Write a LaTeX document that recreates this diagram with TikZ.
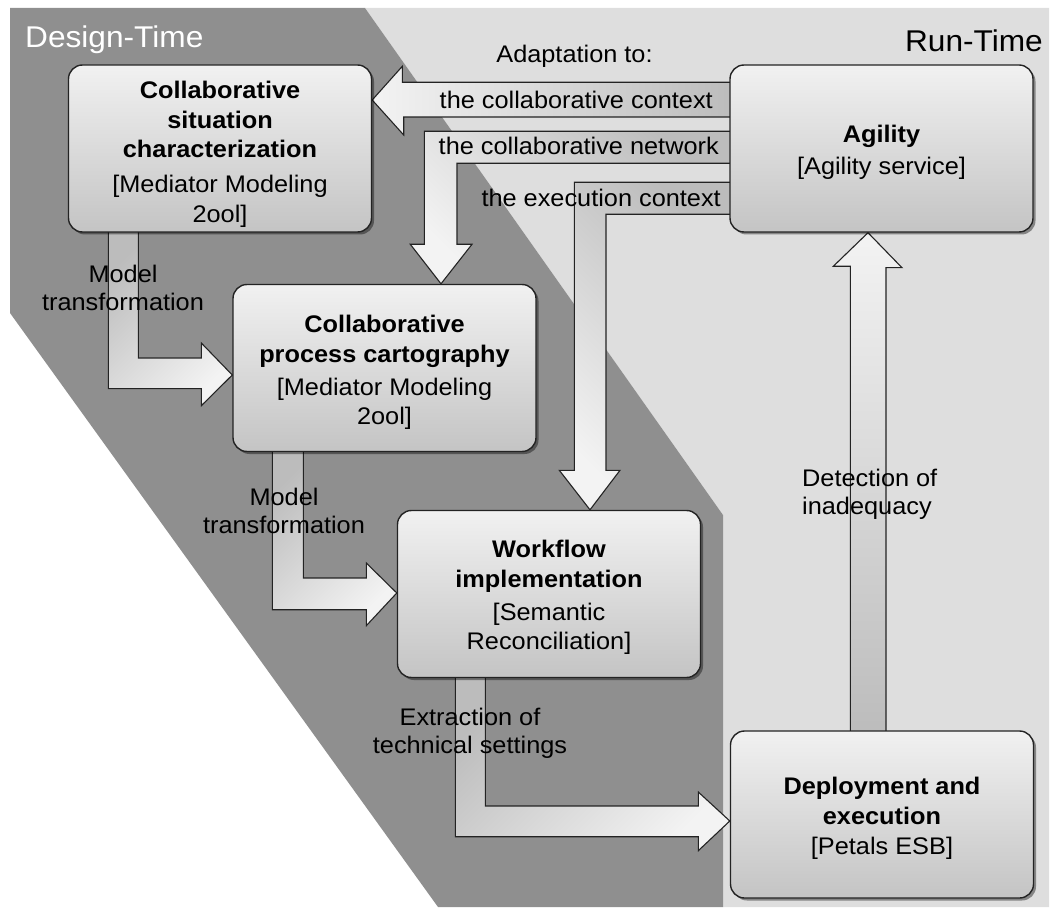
\documentclass[tikz,border=0pt]{standalone}
\usepackage{fontspec}
\setmainfont[FakeStretch=1.055]{Liberation Sans}
\usetikzlibrary{calc,shadows}
\pgfdeclarelayer{bglayer}
\pgfdeclarelayer{arrowlayer}
\pgfsetlayers{bglayer,arrowlayer,main}
\definecolor{darkbg}{RGB}{143,143,143}
\definecolor{lightbg}{RGB}{222,222,222}
\definecolor{boxtop}{RGB}{241,241,241}
\definecolor{boxbot}{RGB}{196,196,196}
\definecolor{arrlight}{RGB}{243,243,243}
\definecolor{arrdark}{RGB}{188,188,188}
\definecolor{outl}{RGB}{35,35,35}
\begin{document}
\begin{tikzpicture}[x=1pt,y=-1pt,
  box/.style={draw=outl, line width=1.4pt, rounded corners=14pt,
    minimum width=303pt, minimum height=167pt, inner sep=0pt,
    top color=boxtop, bottom color=boxbot,
    drop shadow={shadow xshift=2.5pt, shadow yshift=-2.5pt, opacity=0.4, fill=black}},
  boxtext/.style={font=\fontsize{24}{29.5}\selectfont, align=center, inner sep=0pt, anchor=north, text=black},
  lbl/.style={font=\fontsize{24}{28.5}\selectfont, inner sep=0pt, text=black},
  titletext/.style={font=\fontsize{30}{35}\selectfont, inner sep=0pt},
  blockarrow/.style={draw=outl, line width=1.1pt, line join=miter},
]
\useasboundingbox (0,0) rectangle (1050,909);

% regions
\begin{pgfonlayer}{bglayer}
\fill[lightbg] (365,8) -- (1049,8) -- (1049,907) -- (723,907) -- (723,515) -- cycle;
\fill[darkbg] (10,8) -- (365,8) -- (723,515) -- (723,907) -- (438,907) -- (10,313) -- cycle;
\end{pgfonlayer}

% boxes
\node[box] (b1) at (220,148.5) {};
\node[box] (b2) at (384.5,368) {};
\node[box] (b3) at (549,594) {};
\node[box] (ag) at (881.5,148.5) {};
\node[box] (b5) at (882,814.5) {};

% box texts
\node[boxtext] (t1) at ($(b1.north)+(0,16.8)$) {\textbf{Collaborative}\\\textbf{situation}\\\textbf{characterization}\\[5.5pt][Mediator Modeling\\2ool]};
\node[boxtext] (t2) at ($(b2.north)+(0,31.3)$) {\textbf{Collaborative}\\\textbf{process cartography}\\[3.5pt][Mediator Modeling\\2ool]};
\node[boxtext] (t3) at ($(b3.north)+(0,30.3)$) {\textbf{Workflow}\\\textbf{implementation}\\[3.5pt][Semantic\\Reconciliation]};
\node[boxtext] (t4) at ($(ag.north)+(0,60.8)$) {\textbf{Agility}\\[2.5pt][Agility service]};
\node[boxtext] (t5) at ($(b5.north)+(0,46.8)$) {\textbf{Deployment and}\\\textbf{execution}\\[0.5pt][Petals ESB]};

% block arrows
\begin{pgfonlayer}{arrowlayer}
% Agility -> collaborative situation
\path[blockarrow, left color=arrlight, right color=arrdark]
  ($(ag.north west)+(3,18)$) -- ++(-330,0) -- ++(0,-16)
  -- ($(b1.east)+(0,-48.5)$) -- ++(31.5,35) -- ++(0,-18) -- ++(330,0) -- cycle;
% Agility -> process cartography
\path[blockarrow, top color=arrdark, bottom color=arrlight, shading angle=-45]
  ($(ag.north west)+(3,67)$) -- ++(-308,0) -- ++(0,113) -- ++(-14,0)
  -- ($(b2.north)+(56.5,0)$) -- ++(31,-39.5) -- ++(-15,0) -- ++(0,-81) -- ++(276,0) -- cycle;
% Agility -> workflow
\path[blockarrow, top color=arrdark, bottom color=arrlight, shading angle=-45]
  ($(ag.north west)+(3,118)$) -- ++(-158,0) -- ++(0,288) -- ++(-15,0)
  -- ($(b3.north)+(41,0)$) -- ++(30,-39.5) -- ++(-14,0) -- ++(0,-256) -- ++(127,0) -- cycle;
% situation -> cartography
\path[blockarrow, top color=arrdark, bottom color=arrlight, shading angle=45]
  ($(b1.south west)+(40.5,-3)$) -- ++(0,159) -- ++(93,0) -- ++(0,17)
  -- ($(b2.west)+(0,7)$) -- ++(-31,-32) -- ++(0,15) -- ++(-63,0) -- ++(0,-129) -- cycle;
% cartography -> workflow
\path[blockarrow, top color=arrdark, bottom color=arrlight, shading angle=45]
  ($(b2.south west)+(40,-3)$) -- ++(0,160.5) -- ++(94,0) -- ++(0,16)
  -- ($(b3.west)+(0,-1)$) -- ++(-30.5,-30) -- ++(0,15) -- ++(-63,0) -- ++(0,-129.5) -- cycle;
% workflow -> deployment
\path[blockarrow, top color=arrdark, bottom color=arrlight, shading angle=45]
  ($(b3.south west)+(58.5,-3)$) -- ++(0,161.5) -- ++(243,0) -- ++(0,14)
  -- ($(b5.west)+(0,6.5)$) -- ++(-31.5,-29) -- ++(0,14) -- ++(-213,0) -- ++(0,-131.5) -- cycle;
% deployment -> agility
\path[blockarrow, top color=arrlight, bottom color=arrdark]
  ($(b5.north west)+(120.5,3)$) -- ++(0,-467) -- ++(-17,0)
  -- ($(ag.south)+(-13.5,0)$) -- ++(34,35) -- ++(-16,0) -- ++(0,467) -- cycle;
\end{pgfonlayer}

% labels
\node[lbl, anchor=base] (adapt) at (574.5,63) {Adaptation to:};
\node[lbl, anchor=base east] (lctx) at (713,109) {the collaborative context};
\node[lbl, anchor=base east] (lnet) at (719,155) {the collaborative network};
\node[lbl, anchor=base east] (lexe) at (721,207) {the execution context};
\node[lbl, align=center, anchor=north] (lmt1) at (123,264.8) {Model\\transformation};
\node[lbl, align=center, anchor=north] (lmt2) at (284,487.8) {Model\\transformation};
\node[lbl, align=center, anchor=north] (lext) at (470,707.8) {Extraction of\\technical settings};
\node[lbl, align=left, anchor=north west] (ldet) at (802,468.8) {Detection of\\inadequacy};

% titles
\node[titletext, anchor=base west, text=white] (dt) at (25,48) {Design-Time};
\node[titletext, anchor=base east, text=black] (rt) at (1043,52) {Run-Time};
\end{tikzpicture}
\end{document}
